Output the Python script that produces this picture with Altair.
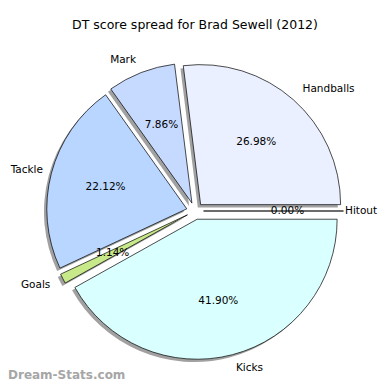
import altair as alt
import pandas as pd

categories = ["Handballs", "Mark", "Tackle", "Goals", "Kicks", "Hitout"]
percents = [26.98, 7.86, 22.12, 1.14, 41.90, 0.00]
colors = ["#eaf0ff", "#c6d9ff", "#b8d6ff", "#c8e98a", "#d9ffff", "#f0f0f0"]

title_text = "DT score spread for Brad Sewell (2012)"
watermark = "Dream-Stats.com"

W, H = 374, 374
CX, CY = 187, 203   # pie centre in plot coordinates
R = 140             # radius px
D = 8.5             # explode distance px
SH = 2.8            # shadow offset px

df = pd.DataFrame({"cat": categories, "pct": percents, "idx": list(range(len(categories)))})

base = alt.Chart(df).transform_window(
    cum="sum(pct)", sort=[alt.SortField("idx")], frame=[None, 0]
).transform_calculate(
    a1="(datum.cum - datum.pct) / 100 * 2 * PI",
    a2="datum.cum / 100 * 2 * PI",
).transform_calculate(
    m="(datum.a1 + datum.a2) / 2",
    t1="PI/2 - datum.a2",
    t2="PI/2 - datum.a1",
).transform_calculate(
    ex=f"{CX} + {D} * cos(datum.m)",
    ey=f"{CY} - {D} * sin(datum.m)",
    sx=f"{CX} + {D} * cos(datum.m) - {SH}",
    sy=f"{CY} - {D} * sin(datum.m) + {SH}",
    lx=f"{CX} + ({D} + 1.1 * {R}) * cos(datum.m)",
    ly=f"{CY} - ({D} + 1.1 * {R}) * sin(datum.m)",
    px=f"{CX} + ({D} + 0.6 * {R}) * cos(datum.m)",
    py=f"{CY} - ({D} + 0.6 * {R}) * sin(datum.m)",
    pl="format(datum.pct, '.2f') + '%'",
    side="cos(datum.m) > 0 ? 1 : 0",
).transform_calculate(
    lxr="max(datum.lx, 35)",
    lxl=f"min(datum.lx, {W} - 37)",
)

shadow = base.mark_arc(color="#8a8a8a", opacity=0.8, radius=R).encode(
    x=alt.X("sx:Q", scale=None, axis=None),
    y=alt.Y("sy:Q", scale=None, axis=None),
    theta=alt.Theta("t1:Q", scale=None),
    theta2="t2:Q",
)

slices = base.mark_arc(radius=R, stroke="black", strokeWidth=0.7).encode(
    x=alt.X("ex:Q", scale=None, axis=None),
    y=alt.Y("ey:Q", scale=None, axis=None),
    theta=alt.Theta("t1:Q", scale=None),
    theta2="t2:Q",
    color=alt.Color("cat:N", scale=alt.Scale(domain=categories, range=colors), legend=None),
)

font = "DejaVu Sans"
lab_left = base.transform_filter("datum.side == 1").mark_text(
    align="left", baseline="middle", font=font, fontSize=10.5, color="black"
).encode(x=alt.X("lxl:Q", scale=None), y=alt.Y("ly:Q", scale=None), text="cat:N")

lab_right = base.transform_filter("datum.side == 0").mark_text(
    align="right", baseline="middle", font=font, fontSize=10.5, color="black"
).encode(x=alt.X("lxr:Q", scale=None), y=alt.Y("ly:Q", scale=None), text="cat:N")

pct_lab = base.mark_text(
    align="center", baseline="middle", font=font, fontSize=10.5, color="black"
).encode(x=alt.X("px:Q", scale=None), y=alt.Y("py:Q", scale=None), text="pl:N")

title = alt.Chart(pd.DataFrame({"t": [title_text]})).mark_text(
    font=font, fontSize=12.5, color="black", align="center", baseline="middle"
).encode(x=alt.value(187), y=alt.value(17), text="t:N")

wm = alt.Chart(pd.DataFrame({"t": [watermark]})).mark_text(
    font=font, fontSize=12, fontWeight="bold", color="#a6a6a6", align="left", baseline="middle"
).encode(x=alt.value(0), y=alt.value(367), text="t:N")

chart = alt.layer(shadow, slices, lab_left, lab_right, pct_lab, title, wm).properties(
    width=W, height=H, padding=0, autosize="none", background="white"
).configure_view(stroke=None)

chart.save("out.html", embed_options={"renderer": "svg", "actions": False})
